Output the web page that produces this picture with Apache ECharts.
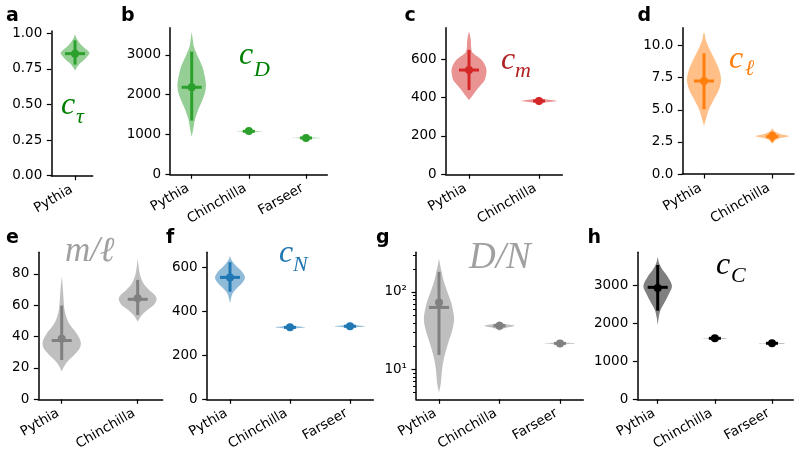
<!DOCTYPE html>
<html>
<head>
<meta charset="utf-8">
<script src="https://cdn.jsdelivr.net/npm/echarts@6/dist/echarts.min.js"></script>
<style>
  html, body { margin: 0; padding: 0; background: #fff; }
  #chart { width: 801px; height: 457px; }
</style>
</head>
<body>
<div id="chart"></div>
<script>
// violin outlines: [value, relative half-width]
const two = ['Pythia', 'Chinchilla'];
const three = ['Pythia', 'Chinchilla', 'Farseer'];

const aProfiles = [
  [[0.737, 0], [0.76, 0.12], [0.79, 0.35], [0.82, 0.7], [0.859, 1], [0.88, 0.85], [0.91, 0.5], [0.94, 0.25], [0.97, 0.08], [0.995, 0]]
];
const aMedian = [0.857];
const aMean = [0.857];
const aLow = [0.78];
const aHigh = [0.95];
const aTicks = [0, 0.25, 0.5, 0.75, 1.0];

const bProfiles = [
  [[946, 0], [1114, 0.1], [1365, 0.22], [1616, 0.45], [1868, 0.75], [2050, 0.93], [2244, 1], [2450, 0.92], [2705, 0.75], [3000, 0.38], [3208, 0.15], [3375, 0.08], [3584, 0]],
  [[1030, 0], [1060, 0.25], [1080, 1], [1100, 0.25], [1130, 0]],
  [[865, 0], [895, 0.25], [913, 1], [931, 0.25], [960, 0]]
];
const bMedian = [2186, 1080, 913];
const bMean = [2186, 1085, 913];
const bLow = [1348, 1065, 900];
const bHigh = [3082, 1095, 926];
const bTicks = [0, 1000, 2000, 3000];

const cProfiles = [
  [[387, 0], [405, 0.16], [430, 0.36], [457, 0.6], [491, 0.9], [535, 1], [561, 0.95], [595, 0.73], [630, 0.24], [648, 0.14], [700, 0.1], [734, 0.03], [743, 0]],
  [[360, 0], [372, 0.25], [382, 1], [392, 0.25], [404, 0]]
];
const cMedian = [543, 382];
const cMean = [543, 382];
const cLow = [439, 376];
const cHigh = [648, 388];
const cTicks = [0, 200, 400, 600];

const dProfiles = [
  [[3.74, 0], [4.34, 0.13], [4.98, 0.27], [5.76, 0.56], [6.54, 0.87], [7.32, 1], [8.1, 0.89], [8.88, 0.64], [9.66, 0.35], [10.44, 0.1], [10.83, 0.05], [11.08, 0]],
  [[2.34, 0], [2.6, 0.15], [2.8, 0.5], [2.95, 1], [3.1, 0.5], [3.3, 0.15], [3.56, 0]]
];
const dMedian = [7.24, 2.91];
const dMean = [7.24, 2.95];
const dLow = [5.04, 2.52];
const dHigh = [9.40, 3.30];
const dTicks = [0, 2.5, 5, 7.5, 10];

const eProfiles = [
  [[17.7, 0], [20.9, 0.12], [24, 0.3], [28.3, 0.65], [32.6, 0.95], [36.8, 1], [42.1, 0.78], [46.4, 0.5], [50.6, 0.3], [57, 0.15], [63.4, 0.1], [71.9, 0.05], [78.3, 0]],
  [[49.6, 0], [53.8, 0.22], [57, 0.5], [60.2, 0.85], [63.8, 1], [66.6, 0.9], [69.8, 0.6], [74, 0.3], [79.4, 0.12], [84.7, 0.05], [90, 0]]
];
const eMedian = [37.5, 63.8];
const eMean = [38.7, 64.5];
const eLow = [25.1, 53.8];
const eHigh = [59.8, 76.2];
const eTicks = [0, 20, 40, 60, 80];

const fProfiles = [
  [[436, 0], [459, 0.07], [482, 0.18], [504, 0.45], [527, 0.8], [554, 1], [580, 0.8], [603, 0.45], [633, 0.1], [651, 0]],
  [[311, 0], [320, 0.25], [327, 1], [334, 0.25], [343, 0]],
  [[316, 0], [325, 0.25], [332, 1], [339, 0.25], [348, 0]]
];
const fMedian = [554, 327, 332];
const fMean = [554, 327, 332];
const fLow = [489, 322, 327];
const fHigh = [623, 332, 337];
const fTicks = [0, 200, 400, 600];

const gProfiles = [
  [[4.99, 0], [6.5, 0.12], [9.7, 0.2], [14.4, 0.35], [21.5, 0.6], [32, 0.88], [45.2, 1], [70.6, 0.82], [100, 0.55], [141, 0.3], [211, 0.1], [270, 0]],
  [[31.3, 0], [33.5, 0.25], [36.4, 1], [39, 0.25], [41.7, 0]],
  [[20.4, 0], [21, 0.25], [21.5, 1], [22, 0.25], [22.6, 0]]
];
const gMedian = [62.8, 36.4, 21.5];
const gMean = [72.8, 36.4, 21.5];
const gLow = [15.2, 35, 21];
const gHigh = [181.6, 38, 22];
const gTicks = [10, 100];
const gMinorTicks = [5, 6, 7, 8, 9, 20, 30, 40, 50, 60, 70, 80, 90, 200, 300];

const hProfiles = [
  [[1961, 0], [2181, 0.08], [2357, 0.2], [2533, 0.45], [2753, 0.75], [2990, 1], [3236, 0.7], [3412, 0.35], [3588, 0.1], [3764, 0]],
  [[1570, 0], [1595, 0.25], [1609, 1], [1623, 0.25], [1650, 0]],
  [[1440, 0], [1465, 0.25], [1478, 1], [1491, 0.25], [1515, 0]]
];
const hMedian = [2955, 1609, 1478];
const hMean = [2937, 1609, 1478];
const hLow = [2339, 1595, 1465];
const hHigh = [3544, 1623, 1491];
const hTicks = [0, 1000, 2000, 3000];

const HALF = 0.25;
const FONT = 'DejaVu Sans';
const MATH = '"Liberation Serif", "DejaVu Serif", serif';

const panels = [
  { box: [51.3, 31, 41.4, 144.7], x: [0.59, 1.305], y: [0, 1.016], cats: ['Pythia'], ticks: aTicks, digits: 2, color: '#2ca02c',
    profiles: aProfiles, median: aMedian, mean: aMean, low: aLow, high: aHigh },
  { box: [170, 27.7, 157.3, 146.6], x: [0.62, 3.373], y: [0, 3683], cats: three, ticks: bTicks, digits: 0, color: '#2ca02c',
    profiles: bProfiles, median: bMedian, mean: bMean, low: bLow, high: bHigh },
  { box: [445.7, 27.7, 116.6, 146.6], x: [0.667, 2.333], y: [0, 763.5], cats: two, ticks: cTicks, digits: 0, color: '#d62728',
    profiles: cProfiles, median: cMedian, mean: cMean, low: cLow, high: cHigh },
  { box: [682.3, 27.7, 111.7, 146.3], x: [0.682, 2.318], y: [0, 11.39], cats: two, ticks: dTicks, digits: 1, color: '#ff7f0e',
    profiles: dProfiles, median: dMedian, mean: dMean, low: dLow, high: dHigh },
  { box: [38.3, 252.3, 124.4, 147], x: [0.692, 2.329], y: [0, 93.8], cats: two, ticks: eTicks, digits: 0, color: '#808080',
    profiles: eProfiles, median: eMedian, mean: eMean, low: eLow, high: eHigh },
  { box: [206.7, 252.3, 166.6, 147], x: [0.612, 3.388], y: [0, 668], cats: three, ticks: fTicks, digits: 0, color: '#1f77b4',
    profiles: fProfiles, median: fMedian, mean: fMean, low: fLow, high: fHigh },
  { box: [416, 252.3, 167.3, 147], x: [0.62, 3.385], y: [4.06, 325], log: true, cats: three, ticks: gTicks, minor: gMinorTicks, color: '#808080',
    profiles: gProfiles, median: gMedian, mean: gMean, low: gLow, high: gHigh },
  { box: [637.3, 252.3, 156, 147], x: [0.643, 3.373], y: [0, 3879], cats: three, ticks: hTicks, digits: 0, color: '#000000',
    profiles: hProfiles, median: hMedian, mean: hMean, low: hLow, high: hHigh }
];

const sup = { 1: '\u00b9', 2: '\u00b2', 3: '\u00b3' };
const grids = [], xAxes = [], yAxes = [], series = [];

panels.forEach((p, gi) => {
  grids.push({ left: p.box[0], top: p.box[1], width: p.box[2], height: p.box[3], containLabel: false, outerBoundsMode: 'none' });
  xAxes.push({
    gridIndex: gi, type: 'value', min: p.x[0], max: p.x[1], splitLine: { show: false },
    axisLine: { onZero: false, lineStyle: { color: '#000', width: 1.5 } },
    axisTick: { customValues: p.cats.map((c, i) => i + 1), length: 4.5, lineStyle: { color: '#000', width: 1.2 } },
    axisLabel: {
      customValues: p.cats.map((c, i) => i + 1), formatter: v => p.cats[Math.round(v) - 1],
      rotate: 30, margin: 11, padding: [0, 4, 0, 0], color: '#000', fontFamily: FONT, fontSize: 13.5
    }
  });
  yAxes.push({
    gridIndex: gi, type: p.log ? 'log' : 'value', position: 'left', min: p.y[0], max: p.y[1], splitLine: { show: false },
    axisLine: { onZero: false, lineStyle: { color: '#000', width: 1.5 } },
    axisTick: { customValues: p.ticks, length: 4.5, lineStyle: { color: '#000', width: 1.2 } },
    axisLabel: {
      customValues: p.ticks, margin: 9, color: '#000', fontFamily: FONT, fontSize: 13.5,
      formatter: p.log ? v => '10' + sup[Math.round(Math.log10(v))] : v => v.toFixed(p.digits)
    }
  });
  if (p.minor) {
    // minor ticks of the log axis, placed through the axis scale
    series.push({
      type: 'custom', xAxisIndex: gi, yAxisIndex: gi, silent: true, clip: false, z: 5,
      data: p.minor.map(v => [p.x[0], v]),
      renderItem: (params, api) => {
        const pt = api.coord([p.x[0], p.minor[params.dataIndex]]);
        const y = Math.round(pt[1]) + 0.5;
        return { type: 'rect', shape: { x: Math.round(pt[0]) - 3, y: y - 0.5, width: 3, height: 1 }, style: { fill: '#000' } };
      }
    });
  }
  series.push({
    type: 'custom', xAxisIndex: gi, yAxisIndex: gi, silent: true,
    data: p.median.map((m, i) => [i + 1, m]),
    renderItem: (params, api) => {
      const i = params.dataIndex, x = i + 1, prof = p.profiles[i];
      const right = prof.map(([v, r]) => api.coord([x + r * HALF, v]));
      const left = prof.slice().reverse().map(([v, r]) => api.coord([x - r * HALF, v]));
      const top = api.coord([x, p.high[i]]), bot = api.coord([x, p.low[i]]);
      const med = api.coord([x, p.median[i]]), mean = api.coord([x, p.mean[i]]);
      const span = Math.abs(right[0][1] - right[right.length - 1][1]);
      const bar = span < 25 ? 6 : 10;
      return {
        type: 'group', children: [
          { type: 'polygon', shape: { points: right.concat(left), smooth: 0.3 }, style: { fill: p.color, opacity: 0.5 } },
          { type: 'line', shape: { x1: top[0], y1: top[1], x2: bot[0], y2: bot[1] }, style: { stroke: p.color, lineWidth: 3 } },
          { type: 'line', shape: { x1: med[0] - bar, y1: med[1], x2: med[0] + bar, y2: med[1] }, style: { stroke: p.color, lineWidth: 3 } },
          { type: 'circle', shape: { cx: mean[0], cy: mean[1], r: 4 }, style: { fill: p.color } }
        ]
      };
    }
  });
});

// panel letters
const letters = [['a', 6, 17.3], ['b', 121, 17.3], ['c', 404.5, 17.3], ['d', 637.5, 17.3],
  ['e', 6, 240], ['f', 166, 240], ['g', 376, 240], ['h', 587.5, 240]];
const graphic = letters.map(([t, x, y]) => ({
  type: 'text', left: x, top: y - 11, style: { text: t, fontFamily: FONT, fontWeight: 'bold', fontSize: 19, fill: '#000' }
}));

// math annotations: [text, left, top, size, colour]
const notes = [
  ['c', 61, 90, 32, '#008000'], ['\u03c4', 76, 106, 22, '#008000'],
  ['c', 239, 40, 32, '#008000'], ['D', 254, 59, 22, '#008000'],
  ['c', 501, 45, 32, '#b22222'], ['m', 515, 60, 22, '#b22222'],
  ['c', 729, 44, 32, '#ff7f0e'], ['\u2113', 745, 58, 22, '#ff7f0e'],
  ['m/\u2113', 65, 234, 35, '#a0a0a0'],
  ['c', 279, 238, 32, '#1f77b4'], ['N', 293, 254, 22, '#1f77b4'],
  ['D/N', 469, 240, 37, '#a0a0a0'],
  ['c', 716, 250, 32, '#000000'], ['C', 731, 265, 22, '#000000']
];
notes.forEach(([t, x, y, s, c]) => graphic.push({
  type: 'text', left: x, top: y, style: { text: t, fontFamily: MATH, fontStyle: 'italic', fontSize: s, fill: c }
}));

const chart = echarts.init(document.getElementById('chart'));
chart.setOption({
  animation: false,
  backgroundColor: '#fff',
  textStyle: { fontFamily: FONT },
  grid: grids,
  xAxis: xAxes,
  yAxis: yAxes,
  series: series,
  graphic: graphic
});
</script>
</body>
</html>
